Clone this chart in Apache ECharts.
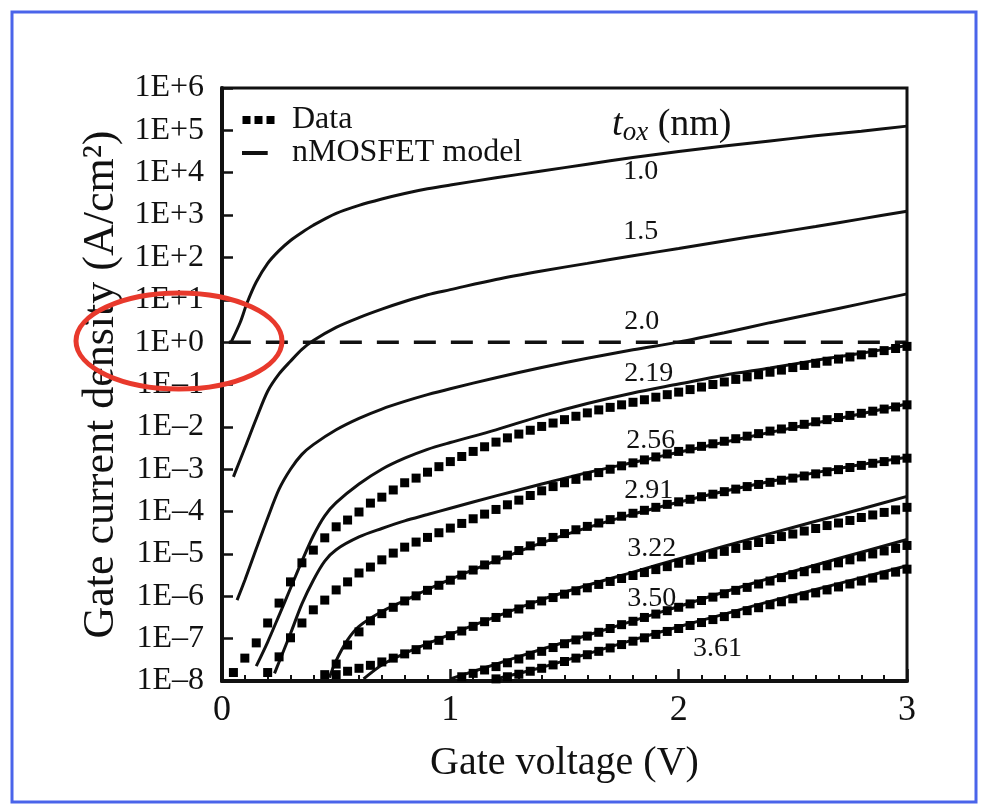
<!DOCTYPE html>
<html>
<head>
<meta charset="utf-8">
<title>Gate current density vs gate voltage</title>
<script src="https://cdn.jsdelivr.net/npm/echarts@6/dist/echarts.min.js"></script>
<style>
  html, body { margin: 0; padding: 0; background: #fff; }
  #chart { width: 981px; height: 805px; }
</style>
</head>
<body>
<div id="chart"></div>
<script>
// Gate tunnelling current vs gate voltage for several oxide thicknesses.
// Values are log10(J / A·cm⁻²); the y axis runs in decades and is labelled 1E±n.
const SERIF = '"Liberation Serif", "DejaVu Serif", serif';
const INK = '#111';

// Gate voltages of the measured points (V).
const V_DATA = [
  0.05, 0.10, 0.15, 0.20, 0.25, 0.30, 0.35, 0.40, 0.45, 0.50,
  0.55, 0.60, 0.65, 0.70, 0.75, 0.80, 0.85, 0.90, 0.95, 1.00,
  1.05, 1.10, 1.15, 1.20, 1.25, 1.30, 1.35, 1.40, 1.45, 1.50,
  1.55, 1.60, 1.65, 1.70, 1.75, 1.80, 1.85, 1.90, 1.95, 2.00,
  2.05, 2.10, 2.15, 2.20, 2.25, 2.30, 2.35, 2.40, 2.45, 2.50,
  2.55, 2.60, 2.65, 2.70, 2.75, 2.80, 2.85, 2.90, 2.95, 3.00,
];

// Measured log10(J). Every list ends at 3.0 V, so it lines up with the tail of V_DATA.
const DATA_219 = [
  -7.80, -7.46, -7.10, -6.63, -6.16, -5.66, -5.21, -4.91, -4.62, -4.36,
  -4.20, -4.01, -3.80, -3.66, -3.49, -3.32, -3.21, -3.07, -2.94, -2.82,
  -2.70, -2.58, -2.47, -2.36, -2.26, -2.17, -2.08, -1.99, -1.91, -1.83,
  -1.75, -1.67, -1.60, -1.54, -1.48, -1.42, -1.36, -1.30, -1.24, -1.18,
  -1.12, -1.06, -1.00, -0.94, -0.88, -0.82, -0.77, -0.71, -0.66, -0.60,
  -0.55, -0.50, -0.45, -0.40, -0.35, -0.30, -0.25, -0.20, -0.15, -0.10,
];
const DATA_256 = [
  -7.80, -7.43, -6.98, -6.63, -6.32, -6.09, -5.85, -5.66, -5.45, -5.31,
  -5.14, -4.98, -4.84, -4.72, -4.61, -4.50, -4.39, -4.28, -4.17, -4.06,
  -3.95, -3.84, -3.73, -3.62, -3.51, -3.41, -3.32, -3.24, -3.16, -3.08,
  -3.00, -2.92, -2.85, -2.78, -2.71, -2.64, -2.58, -2.52, -2.46, -2.40,
  -2.34, -2.28, -2.22, -2.16, -2.10, -2.05, -1.99, -1.94, -1.88, -1.83,
  -1.78, -1.73, -1.68, -1.63, -1.58, -1.53, -1.48,
];
const DATA_291 = [
  -7.85, -7.60, -7.15, -6.84, -6.58, -6.41, -6.26, -6.11, -5.99, -5.86,
  -5.74, -5.62, -5.50, -5.38, -5.26, -5.14, -5.03, -4.92, -4.81, -4.71,
  -4.61, -4.52, -4.43, -4.35, -4.27, -4.19, -4.11, -4.04, -3.97, -3.90,
  -3.83, -3.77, -3.71, -3.65, -3.59, -3.53, -3.47, -3.41, -3.36, -3.31,
  -3.26, -3.21, -3.16, -3.11, -3.06, -3.01, -2.96, -2.91, -2.86, -2.82,
  -2.78, -2.74,
];
const DATA_322 = [
  -7.85, -7.77, -7.70, -7.63, -7.55, -7.46, -7.36, -7.26, -7.15, -7.04,
  -6.93, -6.82, -6.71, -6.60, -6.50, -6.40, -6.30, -6.20, -6.11, -6.03,
  -5.95, -5.87, -5.80, -5.72, -5.65, -5.58, -5.51, -5.44, -5.37, -5.30,
  -5.22, -5.15, -5.08, -5.01, -4.94, -4.87, -4.80, -4.73, -4.66, -4.59,
  -4.53, -4.46, -4.40, -4.33, -4.27, -4.21, -4.14, -4.08, -4.02, -3.96,
  -3.90,
];
const DATA_350 = [
  -7.90, -7.82, -7.74, -7.66, -7.57, -7.48, -7.39, -7.30, -7.21, -7.12,
  -7.03, -6.94, -6.85, -6.76, -6.67, -6.59, -6.50, -6.42, -6.34, -6.26,
  -6.18, -6.10, -6.02, -5.94, -5.86, -5.79, -5.71, -5.64, -5.56, -5.49,
  -5.42, -5.35, -5.28, -5.21, -5.14, -5.07, -5.00, -4.93, -4.87, -4.80,
];
const DATA_361 = [
  -7.95, -7.90, -7.84, -7.77, -7.70, -7.62, -7.54, -7.46, -7.38, -7.30,
  -7.22, -7.14, -7.06, -6.98, -6.90, -6.83, -6.76, -6.69, -6.62, -6.55,
  -6.48, -6.41, -6.34, -6.27, -6.20, -6.13, -6.06, -5.99, -5.92, -5.85,
  -5.78, -5.71, -5.64, -5.57, -5.50, -5.43, -5.36,
];

// nMOSFET model curves as [V, log10 J].
const MODEL_100 = [[0.04, 0.0], [0.08, 0.47], [0.11, 0.93], [0.15, 1.42], [0.2, 1.86], [0.25, 2.16], [0.3, 2.40], [0.35, 2.59], [0.4, 2.76], [0.5, 3.04], [0.6, 3.23], [0.7, 3.38], [0.8, 3.51], [0.9, 3.62], [1.0, 3.71], [1.2, 3.88], [1.4, 4.04], [1.6, 4.20], [1.8, 4.36], [2.0, 4.50], [2.2, 4.63], [2.4, 4.75], [2.6, 4.87], [2.8, 4.98], [3.0, 5.10]];
const MODEL_150 = [[0.05, -3.18], [0.1, -2.50], [0.15, -1.81], [0.2, -1.16], [0.25, -0.75], [0.3, -0.45], [0.35, -0.17], [0.4, 0.04], [0.5, 0.35], [0.6, 0.58], [0.7, 0.78], [0.8, 0.96], [0.9, 1.12], [1.0, 1.24], [1.2, 1.48], [1.4, 1.68], [1.6, 1.86], [1.8, 2.04], [2.0, 2.21], [2.2, 2.39], [2.4, 2.56], [2.6, 2.73], [2.8, 2.91], [3.0, 3.09]];
const MODEL_200 = [[0.066, -6.09], [0.1, -5.62], [0.15, -4.88], [0.2, -4.15], [0.25, -3.47], [0.3, -3.00], [0.35, -2.65], [0.4, -2.42], [0.5, -2.07], [0.6, -1.80], [0.7, -1.58], [0.8, -1.40], [0.9, -1.24], [1.0, -1.10], [1.2, -0.84], [1.4, -0.60], [1.6, -0.38], [1.8, -0.18], [2.0, 0.0], [2.2, 0.22], [2.4, 0.46], [2.6, 0.68], [2.8, 0.91], [3.0, 1.14]];
const MODEL_219 = [[0.15, -7.65], [0.2, -7.08], [0.25, -6.45], [0.3, -5.81], [0.35, -5.17], [0.4, -4.57], [0.45, -4.10], [0.5, -3.79], [0.6, -3.35], [0.7, -3.00], [0.8, -2.74], [0.9, -2.53], [1.0, -2.37], [1.2, -2.07], [1.4, -1.74], [1.6, -1.45], [1.8, -1.20], [2.0, -0.99], [2.2, -0.78], [2.4, -0.61], [2.6, -0.43], [2.8, -0.26], [3.0, -0.08]];
const MODEL_256 = [[0.23, -7.82], [0.25, -7.55], [0.3, -6.88], [0.35, -6.18], [0.4, -5.62], [0.45, -5.17], [0.5, -4.90], [0.6, -4.60], [0.7, -4.40], [0.8, -4.22], [0.9, -4.07], [1.0, -3.92], [1.2, -3.63], [1.4, -3.35], [1.6, -3.08], [1.8, -2.84], [2.0, -2.60], [2.2, -2.36], [2.4, -2.13], [2.6, -1.91], [2.8, -1.69], [3.0, -1.46]];
const MODEL_291 = [[0.47, -7.92], [0.5, -7.52], [0.55, -7.03], [0.6, -6.71], [0.7, -6.36], [0.8, -6.10], [0.9, -5.84], [1.0, -5.60], [1.2, -5.16], [1.4, -4.74], [1.6, -4.38], [1.8, -4.06], [2.0, -3.78], [2.2, -3.52], [2.4, -3.29], [2.6, -3.08], [2.8, -2.89], [3.0, -2.72]];
const MODEL_322 = [[0.62, -7.95], [0.7, -7.62], [0.8, -7.35], [0.9, -7.12], [1.0, -6.90], [1.2, -6.48], [1.4, -6.08], [1.6, -5.74], [1.8, -5.43], [2.0, -5.12], [2.2, -4.82], [2.4, -4.52], [2.6, -4.23], [2.8, -3.94], [3.0, -3.64]];
const MODEL_350 = [[1.0, -7.95], [1.2, -7.60], [1.4, -7.25], [1.6, -6.92], [1.8, -6.58], [2.0, -6.24], [2.2, -5.90], [2.4, -5.57], [2.6, -5.26], [2.8, -4.96], [3.0, -4.66]];
const MODEL_361 = [[1.2, -7.95], [1.4, -7.68], [1.6, -7.36], [1.8, -7.03], [2.0, -6.72], [2.2, -6.42], [2.4, -6.12], [2.6, -5.84], [2.8, -5.56], [3.0, -5.28]];

// The 1 A/cm² reference level (dashed).
const REF_LEVEL = [[0.03, 0], [3.0, 0]];

const DATA_SETS = [DATA_219, DATA_256, DATA_291, DATA_322, DATA_350, DATA_361];
const MODELS = [MODEL_100, MODEL_150, MODEL_200, MODEL_219, MODEL_256, MODEL_291, MODEL_322, MODEL_350, MODEL_361];
const TOX_NAMES = ['1.0', '1.5', '2.0', '2.19', '2.56', '2.91', '3.22', '3.50', '3.61'];
// Where each thickness label sits, in [V, log10 J].
const TOX_AT = [[1.834, 4.02], [1.834, 2.60], [1.838, 0.48], [1.869, -0.75], [1.878, -2.33], [1.869, -3.51], [1.882, -4.88], [1.882, -6.06], [2.17, -7.24]];
const TOX_TITLE_AT = [1.97, 5.13];

const tickLabel = (v) => (v >= 0 ? `1E+${v}` : `1E\u2013${-v}`);

function dataSeries(values) {
  const off = V_DATA.length - values.length;
  return {
    name: 'Data', type: 'scatter', symbol: 'rect', symbolSize: 9, z: 3,
    itemStyle: { color: '#000', opacity: 1 },
    data: values.map((y, i) => [V_DATA[off + i], y]),
  };
}

function modelSeries(points) {
  return {
    name: 'nMOSFET model', type: 'line', showSymbol: false, smooth: 0.3, z: 2,
    itemStyle: { color: INK }, lineStyle: { color: INK, width: 3 },
    data: points,
  };
}

const chart = echarts.init(document.getElementById('chart'), null, { renderer: 'canvas' });

chart.setOption({
  animation: false,
  backgroundColor: '#fff',
  textStyle: { fontFamily: SERIF, color: INK },
  grid: { left: 222, right: 74, top: 88, bottom: 124, show: true, borderColor: INK, borderWidth: 3 },
  legend: {
    orient: 'vertical', left: 237, top: 99, itemGap: 1, itemWidth: 33, itemHeight: 8,
    selectedMode: false,
    textStyle: { color: INK, fontFamily: SERIF, fontSize: 32, lineHeight: 32, padding: [0, 0, 0, 12] },
    data: [
      { name: 'Data', icon: 'path://M0,0h8v8h-8zM12,0h8v8h-8zM24,0h8v8h-8z', itemStyle: { color: '#000', opacity: 1 } },
      { name: 'nMOSFET model', icon: 'path://M0,0h25v4h-25zM32,1.9h0.1v0.1h-0.1z' },
    ],
  },
  xAxis: {
    type: 'value', min: 0, max: 3, interval: 1,
    name: 'Gate voltage (V)', nameLocation: 'middle', nameGap: 62,
    nameTextStyle: { fontFamily: SERIF, fontSize: 40, color: INK },
    axisLine: { onZero: false, lineStyle: { color: INK, width: 4 } },
    axisTick: { inside: true, length: 12, lineStyle: { color: INK, width: 2.5 } },
    minorTick: { show: true, splitNumber: 10, length: 6, lineStyle: { color: INK, width: 2 } },
    axisLabel: { fontFamily: SERIF, fontSize: 36, color: INK, margin: 12 },
    splitLine: { show: false },
  },
  yAxis: {
    type: 'value', min: -8, max: 6, interval: 1,
    name: 'Gate current density (A/cm²)', nameLocation: 'middle', nameGap: 98,
    nameTextStyle: { fontFamily: SERIF, fontSize: 44, color: INK },
    axisLine: { onZero: false, lineStyle: { color: INK, width: 4 } },
    axisTick: { inside: true, length: 11, lineStyle: { color: INK, width: 2.5 } },
    axisLabel: { fontFamily: SERIF, fontSize: 32, color: INK, margin: 18, formatter: tickLabel },
    splitLine: { show: false },
  },
  series: [
    ...MODELS.map(modelSeries),
    {
      name: 'ref', type: 'line', showSymbol: false, z: 1,
      lineStyle: { color: INK, width: 3.5, type: [22, 15] },
      data: REF_LEVEL,
    },
    ...DATA_SETS.map(dataSeries),
  ],
});

// Thickness labels are anchored in data space, then placed with the grid's own scale.
const toPx = (p) => chart.convertToPixel({ gridIndex: 0 }, p);
const labelFont = { fontFamily: SERIF, fontSize: 28, fill: INK, align: 'center', verticalAlign: 'middle' };
const toxLabels = TOX_NAMES.map((name, i) => {
  const [x, y] = toPx(TOX_AT[i]);
  return { type: 'text', x, y, z: 50, style: { text: name, ...labelFont } };
});
const [tx, ty] = toPx(TOX_TITLE_AT);

chart.setOption({
  graphic: [
    // thin blue frame round the figure
    { type: 'rect', z: 0, shape: { x: 12, y: 12, width: 964, height: 790 },
      style: { fill: 'none', stroke: '#4a64ea', lineWidth: 3 } },
    ...toxLabels,
    { type: 'text', x: tx, y: ty, z: 50,
      style: {
        text: '{t|t}{s|ox} {n|(nm)}', fontFamily: SERIF, fontSize: 38, fill: INK,
        align: 'center', verticalAlign: 'middle',
        rich: {
          t: { fontFamily: SERIF, fontSize: 38, fontStyle: 'italic', lineHeight: 44 },
          s: { fontFamily: SERIF, fontSize: 27, fontStyle: 'italic', lineHeight: 27, verticalAlign: 'bottom' },
          n: { fontFamily: SERIF, fontSize: 38, lineHeight: 44 },
        },
      } },
    // red highlight round the 1E+0 level
    { type: 'ellipse', z: 100, shape: { cx: 179, cy: 341, rx: 103, ry: 48 },
      style: { fill: 'none', stroke: '#e8392c', lineWidth: 5 } },
  ],
});
</script>
</body>
</html>
